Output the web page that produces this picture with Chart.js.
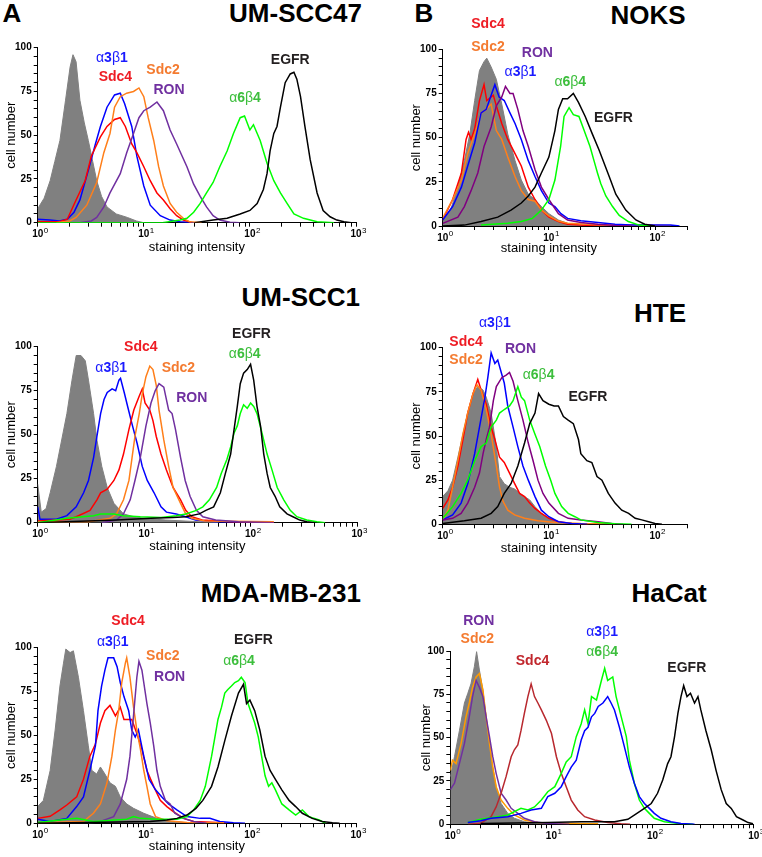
<!DOCTYPE html>
<html>
<head>
<meta charset="utf-8">
<script src="https://cdn.jsdelivr.net/npm/chart.js@4.4.1/dist/chart.umd.min.js"></script>
<style>
body { margin: 0; background: #fff; }
#fig { position: relative; width: 762px; height: 857px; overflow: hidden; font-family: "Liberation Sans", Arial, sans-serif; }
#fig canvas { position: absolute; }
.ttl { position: absolute; font-weight: bold; font-size: 26px; line-height: 26px; color: #000; white-space: nowrap; }
</style>
</head>
<body>
<div id="fig">
    <div class="ttl" style="left:2px;top:0px;width:20px;text-align:center">A</div>
    <div class="ttl" style="left:414px;top:0px;width:20px;text-align:center">B</div>
    <div class="ttl" style="left:0px;top:0px;width:362px;text-align:right">UM-SCC47</div>
    <div class="ttl" style="left:548px;top:2px;width:200px;text-align:center">NOKS</div>
    <div class="ttl" style="left:0px;top:284px;width:360px;text-align:right">UM-SCC1</div>
    <div class="ttl" style="left:560px;top:300px;width:200px;text-align:center">HTE</div>
    <div class="ttl" style="left:0px;top:580px;width:361px;text-align:right">MDA-MB-231</div>
    <div class="ttl" style="left:569px;top:580px;width:200px;text-align:center">HaCat</div>
</div>
<script>
// ============================
// TICKS
// ============================
const xMultipliers = [1, 2, 3, 4, 5, 6, 7, 8, 9];
const xDecades = [1, 10, 100];
const xTickValues = xDecades.flatMap(d => xMultipliers.map(m => m * d)).concat([1000]);
const xPowers = [[1, "0"], [10, "1"], [100, "2"], [1000, "3"]];
const yTickStep = 5;
const yLabelStep = 25;

// ============================
// UM-SCC47  [intensity, cell number]
// ============================
const s47Gray = [[1,8],[1.15,14],[1.31,24],[1.45,35],[1.62,47],[1.83,70],[2.02,89],[2.15,96],[2.3,92],[2.5,70],[2.75,57],[3.0,47],[3.3,35],[3.6,24],[4.0,15],[4.5,9],[5.5,5],[7,3],[8.5,1],[10,0]];
const s47A3b1 = [[1,2],[1.3,1.5],[1.6,1],[1.9,2],[2.2,6],[2.5,13],[3.0,30],[3.5,45],[3.9,55],[4.5,66],[5.3,73],[6.0,74],[6.6,68],[7.7,55],[8.6,38],[10,21],[11.5,10],[14.3,4],[17.7,1.5],[22,0.5],[30,0]];
const s47Sdc4 = [[1,0.5],[1.6,0.5],[1.9,2],[2.3,13],[2.8,24],[3.2,38],[3.9,49],[4.5,55],[5.3,59],[6.0,60],[6.7,55],[7.7,45],[8.6,40],[10,32],[11.5,24],[13.3,17],[15.3,13],[17.7,8],[20.4,4],[23.6,1.5],[28,0.3]];
const s47Sdc2 = [[1.5,0],[2.0,1],[2.3,3],[2.9,10],[3.6,23],[4.2,40],[4.8,51],[5.3,66],[6.0,72],[6.9,74],[8.0,75],[9.0,77],[10,72],[11,60],[12.4,47],[13.8,32],[15.3,21],[17.7,11],[20.4,6],[23.6,2.5],[27,0.5],[35,0]];
const s47Ron = [[2.5,0],[3.2,1],[3.6,3],[4.2,9],[4.8,17],[6.0,28],[6.9,40],[8.0,51],[9.0,60],[10,64],[11.5,66],[13.3,69],[15.3,64],[17.7,53],[20.4,45],[23,38],[25.5,32],[29.5,22],[34,15],[39,9],[45,4],[52,1.5],[65,0.3],[80,0]];
const s47A6b4 = [[1,0],[15,0],[22,1.5],[25.5,2.5],[29.5,6],[34,11],[39,17],[45,23],[52,32],[61,41],[70,51],[81,60],[89,61],[100,53],[108,56],[125,47],[145,34],[168,24],[194,17],[224,11],[260,5],[320,2.5],[430,0.5],[620,0]];
const s47Egfr = [[30,0],[45,1.5],[61,2.5],[81,5],[100,7],[117,11],[134,19],[145,28],[155,41],[168,51],[180,55],[194,66],[215,80],[240,85],[260,86],[277,82],[300,72],[330,55],[370,36],[430,17],[490,7],[570,3.4],[660,1.5],[770,0.5],[900,0]];
const s47Labels = [["α3β1",5.0,94,"blue"],["Sdc4",5.4,83,"red"],["Sdc2",15.2,87,"orange"],["RON",17.3,76,"ron"],["α6β4",90,71,"green"],["EGFR",240,93,"egfr"]];

// ============================
// NOKS
// ============================
const noksGray = [[1,3],[1.2,10],[1.39,22],[1.6,37],[1.8,52],[2.0,71],[2.22,88],[2.45,93],[2.6,95],[2.86,90],[3.2,83],[3.6,69],[4.1,52],[4.8,37],[5.5,26],[6.4,18],[7.4,15],[8.5,11],[10,7],[12.3,3.4],[15,1.5],[20,0.3],[25,0]];
const noksSdc4 = [[1,3.4],[1.24,15],[1.5,30],[1.66,49],[1.75,53],[1.85,49],[2.0,55],[2.22,71],[2.45,80],[2.6,71],[3.0,74],[3.2,68],[3.6,58],[4.1,49],[4.8,41],[5.5,34],[6.4,22],[7.4,15],[8.5,9],[10,5],[12.3,2.5],[15,1],[24,0.3],[40,0]];
const noksSdc2 = [[1,4.5],[1.24,15],[1.5,26],[1.72,41],[2.0,52],[2.3,64],[2.57,66],[2.86,69],[3.2,54],[3.6,49],[4.1,39],[4.8,28],[5.5,20],[6.4,15],[7.4,14],[8.5,9],[10,5.7],[12.3,2.8],[15,1.5],[32,0.5],[87,0.5],[150,0]];
const noksA3b1 = [[1,3.4],[1.24,11],[1.5,22],[1.72,34],[2.0,47],[2.3,64],[2.57,66],[2.86,74],[3.1,80],[3.4,73],[3.8,71],[4.3,64],[4.8,58],[5.5,49],[6.4,37],[7.4,28],[8.5,20],[10,13],[11.4,11],[13,7],[15,4.3],[20,3],[29,2],[42,1],[60,0.5],[140,0.5],[170,0]];
const noksRon = [[1,1.5],[1.39,5],[1.6,11],[1.85,20],[2.14,30],[2.45,45],[2.86,56],[3.2,68],[3.6,73],[3.9,79],[4.3,75],[4.6,75],[5.1,66],[5.7,54],[6.4,45],[7.4,32],[8.5,22],[10,15],[12.3,7],[15,3.4],[20,2],[29,1],[42,0.3],[60,0]];
const noksA6b4 = [[2.3,0.5],[4.1,1.5],[5.5,2.5],[7,4.3],[8.5,9],[10,15],[11.4,26],[12.9,45],[13.9,62],[15.5,67],[17,63],[19.2,62],[21.2,55],[24.4,45],[26.6,37],[28.7,30],[30.8,24],[34.4,17],[39.8,11],[46,6],[56,2.5],[71,0.5],[90,0]];
const noksEgfr = [[1,0],[1.6,0.5],[2.3,2.5],[3.3,5],[4.4,9],[5.5,13],[6.4,17],[7.4,22],[8.5,30],[10,39],[11.4,54],[12.3,66],[13.5,72],[15,72],[17,75],[19,70],[22,62],[25.7,52],[29.7,43],[37,28],[42.7,18],[53,9],[66,3.4],[80,1],[100,0]];
const noksLabels = [["Sdc4",2.67,114,"red"],["Sdc2",2.67,101,"orange"],["RON",7.8,98,"ron"],["α3β1",5.4,87,"blue"],["α6β4",15.9,81.5,"green"],["EGFR",40.5,61,"egfr"]];

// ============================
// UM-SCC1
// ============================
const s1Gray = [[1,22],[1.08,6],[1.2,8],[1.31,17],[1.5,32],[1.68,47],[1.88,62],[2.1,81],[2.3,95],[2.55,95],[2.8,92],[3.0,81],[3.35,62],[3.6,47],[4.0,32],[4.5,20],[5.2,11],[6.4,5],[8,3.4],[10,2.5],[16,1.5],[34,0.5],[50,0]];
const s1A3b1 = [[1,9],[1.05,2],[1.5,2],[1.88,4],[2.3,9],[2.7,17],[3.0,24],[3.35,37],[3.6,49],[3.9,62],[4.2,70],[4.5,74],[5.0,76],[5.4,75],[5.8,81],[6.0,82],[6.5,74],[7.0,66],[7.7,56],[8.6,45],[9.6,32],[10.7,24],[12.4,17],[14.4,9],[16.2,6],[20,5],[24.6,3.4],[30.4,1.5],[46,0.5],[165,0]];
const s1Sdc4 = [[1,1],[2,2],[2.3,3.4],[3.1,7],[3.6,13],[3.9,17],[4.5,19],[5.2,24],[5.8,30],[6.4,39],[7.2,53],[8.0,64],[9,72],[9.6,76],[10.2,68],[11.3,64],[12.1,58],[13,49],[14.4,39],[16.2,30],[18.7,20],[22,13],[24.6,7],[28,3.4],[35,1.5],[65,0.5],[165,0.3]];
const s1Sdc2 = [[1,0.5],[3,0.5],[4.8,2.5],[5.5,5],[6.4,13],[7.2,24],[7.7,37],[8.2,49],[9,62],[9.6,73],[10.4,83],[11.3,89],[12.1,87],[13,78],[13.8,64],[15.3,47],[17,32],[18.7,20],[22,11],[24.6,5],[28,2.5],[37,1],[165,0.5]];
const s1Ron = [[4,0],[5.5,1.5],[6.4,5],[7.4,13],[8.2,24],[9.2,37],[10.4,55],[11.6,68],[12.7,75],[13.8,79],[15.3,77],[17,64],[18.3,62],[19.7,53],[22,37],[24.3,24],[27,15],[31,7],[35.6,3.4],[47,1.5],[77,0.5],[165,0]];
const s1A6b4 = [[1,0],[1.88,2.5],[3.35,4],[3.9,5],[5.2,5],[6.4,4],[9.2,3.4],[14.4,3],[20,4],[24.6,5],[31,7],[35.6,9],[41,13],[48,20],[53,28],[60,36],[65,43],[70,51],[75,55],[80,62],[86,67],[93,65],[100,68],[107,66],[115,62],[128,51],[143,39],[159,30],[178,20],[205,13],[236,7],[272,3.4],[337,1.5],[420,0.5],[500,0]];
const s1Egfr = [[1,0],[5.5,1.5],[11.6,2.5],[18.7,3],[24.6,3.4],[33,5],[38,7],[45,9],[52,17],[58,28],[65,39],[70,53],[75,66],[80,79],[86,85],[93,87],[100,90],[107,81],[115,66],[124,55],[133,39],[143,28],[153,20],[170,15],[188,9],[220,5],[250,3.4],[290,1.5],[337,0.5],[400,0]];
const s1Labels = [["Sdc4",9.3,100,"red"],["α3β1",4.9,88,"blue"],["Sdc2",21,88,"orange"],["RON",28,71,"ron"],["EGFR",102,107,"egfr"],["α6β4",88,96,"green"]];

// ============================
// HTE
// ============================
const hteGray = [[1,15.7],[1.12,19],[1.24,25],[1.39,38],[1.55,51],[1.72,63],[1.93,74],[2.14,78],[2.4,76],[2.57,72],[2.86,63],[3.2,44],[3.43,27],[3.8,23],[4.26,21],[4.76,20],[5.3,17.5],[5.9,15.7],[6.6,13.8],[7.4,10],[8.5,6.2],[10,3.4],[11.4,1.5],[14,0.5],[20,0]];
const hteSdc4 = [[1,9],[1.12,13.8],[1.24,21],[1.39,33],[1.55,48],[1.72,63],[1.93,74],[2.14,82],[2.3,76],[2.57,68],[2.86,55],[3.1,48],[3.43,38],[3.8,35],[4.26,29],[4.76,23],[5.3,17.5],[5.9,15.7],[6.6,12],[7.4,9],[8.5,6.2],[10,3.4],[12.3,1.5],[16.4,0.5],[23.6,0]];
const hteSdc2 = [[1,2.5],[1.12,8],[1.24,21],[1.39,36],[1.55,51],[1.72,63],[1.93,74],[2.1,79],[2.3,76],[2.57,65],[2.86,51],[3.2,33],[3.43,21],[3.7,13],[4.1,8],[4.76,5.3],[5.9,3.4],[7.9,2],[11.4,1],[20,0.5],[42,0.3]];
const hteA3b1 = [[1,2.5],[1.24,5.3],[1.49,12],[1.72,23],[2.0,40],[2.22,55],[2.5,72],[2.66,83],[2.86,97],[3.1,91],[3.3,93],[3.6,85],[3.8,80],[4.1,67],[4.6,55],[5.1,44],[5.7,33],[6.4,25],[7.4,15.7],[8.5,8],[10,4.3],[12.3,1.5],[16.4,0.5],[23,0]];
const hteRon = [[1,2.5],[1.24,3.4],[1.49,6.2],[1.72,12],[2.0,21],[2.22,29],[2.4,40],[2.57,48],[2.76,55],[3.0,70],[3.2,78],[3.6,83],[3.96,84.5],[4.26,86],[4.6,81],[5.1,70],[5.7,59],[6.4,46],[7.1,36],[7.9,25],[8.8,17.5],[10,12],[12.3,6.2],[15.2,3.4],[20,2.5],[29,1.5],[39,0.5],[50,0]];
const hteA6b4 = [[1,3.4],[1.24,10],[1.49,17.5],[1.72,25],[2.0,36],[2.3,44],[2.57,46],[2.86,55],[3.2,59],[3.43,63],[3.8,65],[4.26,67],[4.6,70],[5.1,78],[5.5,72],[5.9,70],[6.6,59],[7.4,51],[8.2,44],[9.3,33],[10.4,25],[11.4,17.5],[13.2,10],[15.2,6.2],[17.6,4.3],[20,2.5],[29,1],[42,0.3],[60,0]];
const hteEgfr = [[1,0.5],[1.6,2],[2.3,3.4],[2.86,6.2],[3.3,10],[3.8,17.5],[4.4,23],[5.1,33],[5.9,46],[6.6,57],[7.4,63],[8.0,74],[8.8,70],[10,68],[11.2,67],[12.3,67],[13.7,61],[15.2,59],[17,57],[19,48],[20,40],[22.8,36],[25.4,35],[28.4,27],[31.6,25],[36.3,17.5],[42,12],[48.6,8],[56.4,6.2],[65,3.4],[75,2.5],[87,1.5],[100,0.5],[116,0]];
const hteLabels = [["α3β1",3.1,114,"blue"],["Sdc4",1.66,103,"red"],["Sdc2",1.66,93,"orange"],["RON",5.4,99,"ron"],["α6β4",8.0,84.5,"green"],["EGFR",23.3,72,"egfr"]];

// ============================
// MDA-MB-231
// ============================
const mdaGray = [[1,9.5],[1.13,13],[1.31,30],[1.46,53],[1.62,78],[1.75,91],[1.84,99],[2.02,97],[2.17,98],[2.42,83],[2.7,64],[3.0,44],[3.24,30],[3.6,28],[3.9,32],[4.3,28],[4.8,23],[5.4,21],[6.0,15],[6.9,11],[8,8.5],[10,5.7],[13.3,2.8],[16.5,1.5],[23.7,0.5],[30,0]];
const mdaSdc4 = [[1,2.8],[1.31,4],[1.62,7.6],[1.88,10.4],[2.33,15],[2.7,25],[3.1,38],[3.5,45],[3.9,57],[4.3,64],[4.8,67],[5.4,61],[6.0,66],[6.5,59],[7.2,59],[7.7,59],[8.6,51],[9.6,42],[10.7,30],[12.4,21],[14.3,13],[16.5,9.5],[19,6.6],[23.7,2.8],[29.5,1],[49,0.5],[60,0]];
const mdaA3b1 = [[1,2.3],[1.31,1],[1.88,2.8],[2.33,9.5],[2.7,15],[3.1,30],[3.5,44],[3.7,64],[4.0,78],[4.3,87],[4.6,94],[5.2,94],[5.6,89],[6.0,80],[6.5,72],[7.2,64],[7.7,53],[8.3,49],[8.9,53],[10,38],[11.2,25],[12.9,19],[14.8,15],[17.1,11],[20.5,7.6],[25.5,3.8],[34,2.8],[42,2.8],[52,1],[70,0.3],[90,0]];
const mdaSdc2 = [[1,0.3],[2.7,1],[3.35,5.7],[3.9,11],[4.5,23],[5.0,38],[5.4,53],[5.8,64],[6.2,80],[6.7,91],[6.9,94],[7.4,83],[8,66],[8.6,53],[9.3,42],[10,30],[10.7,21],[11.5,11],[12.9,3.8],[16.5,1.5],[25.5,0.5],[57,0.3]];
const mdaRon = [[3,0],[3.9,1],[5.2,3.8],[6.0,11],[6.9,25],[7.4,38],[8,61],[8.6,83],[9,92],[9.6,87],[10.7,68],[11.5,57],[12.4,44],[13.3,30],[14.3,21],[16,13],[17.7,11],[19.6,5.7],[23.7,2.8],[29.5,1],[39,0]];
const mdaA6b4 = [[1,0.5],[1.62,1.9],[2.33,2.8],[3.35,1],[6.9,2.3],[8,3.8],[9.3,2.8],[13.3,2.3],[20.5,2.3],[25.5,3.8],[29.5,7.6],[34,13],[38,21],[43.5,38],[46.8,49],[50,59],[54,66],[58,74],[62,76],[67,78],[72,80],[78,81],[83,83],[90,80],[96,68],[104,62],[111,57],[120,49],[129,38],[139,27],[150,21],[161,23],[174,19],[200,11],[234,7.6],[270,4.7],[312,7.6],[360,3.8],[450,1.9],[520,0]];
const mdaEgfr = [[1,0],[11.5,1],[16.5,1.9],[20.5,2.8],[25.5,4.7],[31,8.5],[36,13],[43.5,21],[50,32],[58,47],[67,61],[78,74],[87,79],[93,68],[100,70],[111,64],[124,53],[139,38],[155,30],[174,25],[200,19],[234,13],[270,9.5],[312,5.7],[387,2.8],[480,1],[600,0.3],[700,0]];
const mdaLabels = [["Sdc4",7.1,115,"red"],["α3β1",5.1,103,"blue"],["Sdc2",15.1,95,"orange"],["RON",17.5,83,"ron"],["EGFR",108,104,"egfr"],["α6β4",79,92,"green"]];

// ============================
// HaCat
// ============================
const hacatGray = [[1,27.5],[1.1,39],[1.23,54],[1.38,70],[1.49,75.6],[1.6,81],[1.73,91],[1.82,99.6],[1.94,89],[2.1,77.5],[2.26,62],[2.44,46.7],[2.63,33],[2.84,21.7],[3.18,12],[3.7,6.3],[4.3,3.5],[5.4,1.5],[7.35,0.5],[9.2,0]];
const hacatSdc2 = [[1,31],[1.05,37],[1.14,35],[1.28,46.7],[1.43,62],[1.54,70],[1.66,79],[1.8,85],[1.94,87],[2.1,77.5],[2.26,62],[2.44,46.7],[2.63,33],[2.84,21.7],[3.18,14],[3.7,9.2],[4.3,5.4],[5.4,2.5],[7.35,1],[14.6,0.5],[29,0.3]];
const hacatRon = [[1,20],[1.1,23.7],[1.23,35],[1.38,46.7],[1.54,62],[1.66,73.7],[1.8,83],[1.94,79],[2.1,73.7],[2.26,62],[2.44,50.6],[2.63,39],[2.84,29.4],[3.18,17.9],[3.56,14],[4.0,9.2],[4.65,6.3],[5.4,3.5],[6.8,1.5],[9.2,0.5],[15,0]];
const hacatSdc4 = [[1.5,0],[2.0,0.6],[2.53,4.4],[2.84,10],[3.18,17.9],[3.56,27.5],[4.0,39],[4.3,43],[4.65,45.8],[5.0,54],[5.4,64],[5.85,73.7],[6.3,81],[6.8,73.7],[7.35,70],[7.95,66],[8.9,60],[10,52.5],[11.2,39],[12.5,29.4],[14,21.7],[15.7,14],[18.2,8.3],[21.3,4.4],[26.8,2.5],[36,1],[49,0.3],[60,0]];
const hacatA3b1 = [[1.49,1],[2.0,2],[2.53,3.5],[3.7,4.4],[5.0,6.3],[6.3,8.3],[7.95,9.2],[9.2,16],[10.8,17.9],[12.5,21.7],[14,27.5],[15.7,33],[17.6,37],[19.7,48.6],[21.3,54],[23,56],[24.9,62],[26.8,64],[29,68],[32.3,70],[36,73.7],[38.9,70],[42,66],[47,56],[52.6,44.8],[59,33],[66,23.7],[74,16],[83,12],[93,9.2],[104,6.3],[121,3.5],[152,1.5],[191,0.5],[260,0]];
const hacatA6b4 = [[1.49,1],[2.0,2.9],[2.95,4.4],[3.7,5.4],[5.0,9.2],[5.85,8.3],[6.8,10],[7.95,14],[9.2,18.8],[10.8,21.7],[12.5,29.4],[14,36],[15.7,39],[17.6,50.6],[19.7,58],[21.3,66],[23,58],[24.9,73.7],[27.9,71.7],[31.2,83],[33.6,90],[36,83],[40.4,85],[43.6,73.7],[49,62],[55,50.6],[59,37],[66,23.7],[74,14],[83,9.2],[93,6.3],[104,3.5],[131,1.5],[191,0.3],[250,0]];
const hacatEgfr = [[2,0.5],[9.2,1],[19.7,1.5],[42,1.5],[57,2.9],[70,6.3],[83,9.2],[97,12],[112,17.9],[126,25.6],[141,35],[152,39],[165,50.6],[178,64],[191,73.7],[203,80],[219,73.7],[237,75.6],[260,70],[281,73.7],[300,66],[337,54],[380,43],[425,31],[477,20],[535,12],[600,9.2],[675,4.4],[785,2.5],[880,1],[985,0.3]];
const hacatLabels = [["RON",1.91,117,"ron"],["Sdc2",1.85,107,"orange"],["Sdc4",6.5,94,"hacatSdc4"],["α3β1",31.7,111,"blue"],["α6β4",31.7,99.6,"green"],["EGFR",218,90,"egfr"]];

// ============================
// COLOURS
// ============================
const curveColors = {
    gray: "#808080", blue: "#0000ff", red: "#ff0000", orange: "#ff7f1a",
    ron: "#7030a0", ronB: "#800080", green: "#00ff00", egfr: "#000000",
    hacatSdc4: "#b8282e", hacatSdc2: "#ff9a00"
};
const textColors = {
    blue: "#1a1aff", red: "#ee1c24", orange: "#f47b30", ron: "#7030a0",
    green: "#3cbe3c", egfr: "#231f20", hacatSdc4: "#c1272d"
};

const FONT = '"Liberation Sans", Arial, sans-serif';
Chart.defaults.font.family = FONT;
Chart.defaults.color = "#000";

// ============================
// PLUGIN: curve labels, 10^n tick labels, x title
// ============================
const curveLabels = {
    id: "curveLabels",
    afterDraw(chart, args, opts) {
        const { ctx, scales: { x, y }, chartArea } = chart;
        ctx.save();

        // curve names (greek letters regular, the rest bold)
        ctx.textBaseline = "middle";
        ctx.textAlign = "left";
        opts.items.forEach(([text, vx, vy, key]) => {
            const parts = [...text].map(ch => ({
                ch,
                font: /[αβ]/.test(ch) ? "14px " + FONT : "bold 14px " + FONT
            }));
            let w = 0;
            parts.forEach(p => { ctx.font = p.font; p.w = ctx.measureText(p.ch).width; w += p.w; });
            let px = x.getPixelForValue(vx) - w / 2;
            const py = y.getPixelForValue(vy);
            ctx.fillStyle = textColors[key];
            parts.forEach(p => { ctx.font = p.font; ctx.fillText(p.ch, px, py); px += p.w; });
        });

        // x tick labels 10^n
        ctx.fillStyle = "#000";
        ctx.textBaseline = "alphabetic";
        xPowers.filter(([v]) => v <= x.max).forEach(([v, e]) => {
            const px = x.getPixelForValue(v);
            ctx.font = "bold 10px " + FONT;
            const w10 = ctx.measureText("10").width;
            ctx.textAlign = "center";
            ctx.fillText("10", px, chartArea.bottom + 14.5);
            ctx.font = "8px " + FONT;
            ctx.textAlign = "left";
            ctx.fillText(e, px + w10 / 2 + 0.5, chartArea.bottom + 10);
        });

        if (opts.xTitleAt) {
            ctx.font = "13px " + FONT;
            ctx.textAlign = "center";
            ctx.textBaseline = "middle";
            ctx.fillText("staining intensity", x.getPixelForValue(opts.xTitleAt), chartArea.bottom + opts.xTitleGap);
        }
        ctx.restore();
    }
};

// ============================
// PANELS
// ============================
const panels = [
    { left: 0, top: 0, w: 381, h: 260, area: { l: 37.7, r: 356, t: 47.7, b: 222.7 }, yTitleX: 11, xMax: 1000, xTitleAt: 31.62, xTitleGap: 25,
      labels: s47Labels,
      series: [[s47Egfr, "egfr"], [s47A6b4, "green"], [s47Ron, "ron"], [s47Sdc2, "orange"], [s47Sdc4, "red"], [s47A3b1, "blue"], [s47Gray, "gray"]] },
    { left: 381, top: 0, w: 381, h: 260, area: { l: 61.7, r: 306, t: 49.3, b: 226 }, yTitleX: 35, xMax: 200, xTitleAt: 10, xTitleGap: 22,
      labels: noksLabels,
      series: [[noksEgfr, "egfr"], [noksA6b4, "green"], [noksRon, "ronB"], [noksA3b1, "blue"], [noksSdc2, "orange"], [noksSdc4, "red"], [noksGray, "gray"]] },
    { left: 0, top: 280, w: 381, h: 280, area: { l: 37.7, r: 357, t: 66.7, b: 242.7 }, yTitleX: 11, xMax: 1000, xTitleAt: 31.62, xTitleGap: 24,
      labels: s1Labels,
      series: [[s1Egfr, "egfr"], [s1A6b4, "green"], [s1Ron, "ron"], [s1Sdc2, "orange"], [s1Sdc4, "red"], [s1A3b1, "blue"], [s1Gray, "gray"]] },
    { left: 381, top: 280, w: 381, h: 280, area: { l: 61.7, r: 306, t: 67.7, b: 244.3 }, yTitleX: 35, xMax: 200, xTitleAt: 10, xTitleGap: 24,
      labels: hteLabels,
      series: [[hteEgfr, "egfr"], [hteA6b4, "green"], [hteRon, "ronB"], [hteA3b1, "blue"], [hteSdc2, "orange"], [hteSdc4, "red"], [hteGray, "gray"]] },
    { left: 0, top: 570, w: 381, h: 287, area: { l: 37.7, r: 356, t: 77.3, b: 253.3 }, yTitleX: 11, xMax: 1000, xTitleAt: 31.62, xTitleGap: 23.4,
      labels: mdaLabels,
      series: [[mdaEgfr, "egfr"], [mdaA6b4, "green"], [mdaRon, "ron"], [mdaSdc2, "orange"], [mdaA3b1, "blue"], [mdaSdc4, "red"], [mdaGray, "gray"]] },
    { left: 381, top: 570, w: 381, h: 287, area: { l: 69.3, r: 372.7, t: 81, b: 254.3 }, yTitleX: 45, xMax: 1000, xTitleAt: null, xTitleGap: 0,
      labels: hacatLabels,
      series: [[hacatEgfr, "egfr"], [hacatA3b1, "blue"], [hacatA6b4, "green"], [hacatSdc4, "hacatSdc4"], [hacatRon, "ron"], [hacatSdc2, "hacatSdc2"], [hacatGray, "gray"]] }
];

function criarPainel(p) {
    const canvas = document.createElement("canvas");
    canvas.width = p.w;
    canvas.height = p.h;
    canvas.style.left = p.left + "px";
    canvas.style.top = p.top + "px";
    document.getElementById("fig").appendChild(canvas);

    const padLeft = p.yTitleX - 7.8;

    new Chart(canvas, {
        type: "line",
        data: {
            datasets: p.series.map(([pts, key]) => ({
                data: pts.map(([x, y]) => ({ x, y })),
                borderColor: curveColors[key],
                backgroundColor: key === "gray" ? curveColors.gray : "transparent",
                fill: key === "gray" ? "origin" : false,
                borderWidth: key === "gray" ? 1 : 1.5,
                pointRadius: 0,
                tension: 0
            }))
        },
        options: {
            responsive: false,
            animation: false,
            events: [],
            layout: { padding: { left: padLeft, top: p.area.t, right: p.w - p.area.r, bottom: 0 } },
            plugins: {
                legend: { display: false },
                tooltip: { enabled: false },
                curveLabels: { items: p.labels, xTitleAt: p.xTitleAt, xTitleGap: p.xTitleGap }
            },
            scales: {
                x: {
                    type: "logarithmic",
                    min: 1,
                    max: p.xMax,
                    afterBuildTicks: axis => { axis.ticks = xTickValues.filter(v => v <= p.xMax).map(v => ({ value: v })); },
                    afterFit: axis => { axis.height = p.h - p.area.b; },
                    border: { color: "#000", width: 1 },
                    grid: { drawOnChartArea: false, drawTicks: true, tickLength: 4, color: "#000" },
                    ticks: { autoSkip: false, maxRotation: 0, padding: 0, font: { size: 10 }, callback: () => "" }
                },
                y: {
                    min: 0,
                    max: 100,
                    afterFit: axis => { axis.width = p.area.l - padLeft; },
                    border: { color: "#000", width: 1 },
                    grid: { drawOnChartArea: false, drawTicks: true, tickLength: 4, color: "#000" },
                    title: { display: true, text: "cell number", font: { size: 13 }, padding: { top: 0, bottom: 0 } },
                    ticks: {
                        stepSize: yTickStep, autoSkip: false, padding: 2,
                        font: { size: 10, weight: "bold" },
                        callback: v => (v % yLabelStep === 0 ? v : "")
                    }
                }
            }
        },
        plugins: [curveLabels]
    });
}

panels.forEach(criarPainel);
</script>
</body>
</html>
